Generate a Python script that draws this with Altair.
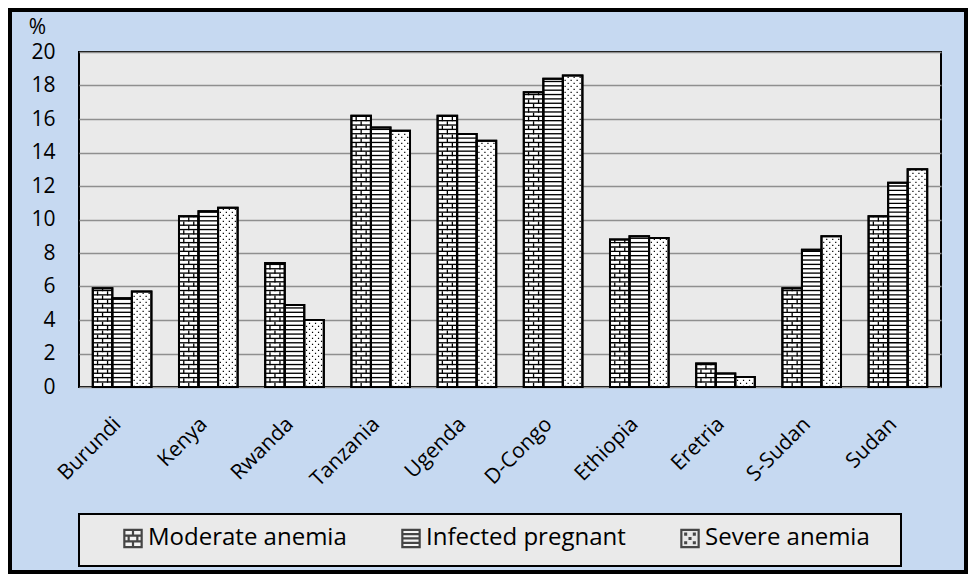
import altair as alt
import pandas as pd

COUNTRIES = ["Burundi", "Kenya", "Rwanda", "Tanzania", "Ugenda",
             "D-Congo", "Ethiopia", "Eretria", "S-Sudan", "Sudan"]
MODERATE = [5.9, 10.2, 7.4, 16.2, 16.2, 17.6, 8.8, 1.4, 5.9, 10.2]
INFECTED = [5.3, 10.5, 4.9, 15.5, 15.1, 18.4, 9.0, 0.8, 8.2, 12.2]
SEVERE = [5.7, 10.7, 4.0, 15.3, 14.7, 18.6, 8.9, 0.6, 9.0, 13.0]
SERIES = ["Moderate anemia", "Infected pregnant", "Severe anemia"]
Y_TICKS = [0, 2, 4, 6, 8, 10, 12, 14, 16, 18, 20]

rows = []
for i, c in enumerate(COUNTRIES):
    for s, vals in zip(SERIES, [MODERATE, INFECTED, SEVERE]):
        rows.append({"country": c, "series": s, "value": vals[i]})
df = pd.DataFrame(rows)

# layout / style constants
W, H = 862, 335
PX = H / 20.0
ROW = 0.26            # texture row height in data units
ROW_PX = ROW * PX
THICK = 0.08
P_IN = 0.32
STEP = W / len(COUNTRIES)
SUB = STEP * (1 - P_IN) / 3
FONT = "Open Sans"
BG = "#C6D9F1"
PLOT_BG = "#EAEAEA"

x_scale = alt.Scale(paddingInner=P_IN, paddingOuter=P_IN / 2)
x_axis = alt.Axis(title=None, labelAngle=315, labelAlign="right", labelBaseline="top",
                  labelPadding=26, labelOffset=-12, ticks=False, domain=False, labelFontSize=21,
                  labelFont=FONT, labelColor="black", labelLimit=300)
y_scale = alt.Scale(domain=[0, 20], nice=False, zero=True)
y_axis = alt.Axis(values=Y_TICKS, title="%", titleAngle=0, titleX=-42, titleY=-25,
                  titleAlign="center", titleBaseline="middle", titleFontSize=21,
                  titleFont=FONT, titleFontWeight="normal", titleColor="black",
                  labelFontSize=21, labelFont=FONT, labelColor="black", labelPadding=24,
                  ticks=False, domain=False, grid=True, gridColor="#8f8f8f", gridWidth=1.5)


def X():
    return alt.X("country:N", sort=COUNTRIES, scale=x_scale, axis=x_axis)


def XO():
    return alt.XOffset("series:N", sort=SERIES,
                       scale=alt.Scale(domain=SERIES, paddingInner=0, paddingOuter=0))


def Y(field):
    return alt.Y(field, scale=y_scale, axis=y_axis)


base = alt.Chart(df)

bars = base.mark_bar(fill="white", stroke="black", strokeWidth=2).encode(
    x=X(), xOffset=XO(), y=Y("value:Q"))

# horizontal lines (brick rows and stripes)
hlines = (base.transform_filter(alt.datum.series != "Severe anemia")
          .transform_calculate(lv=f"sequence({ROW}, datum.value - 0.05, {ROW})")
          .transform_flatten(["lv"])
          .transform_calculate(lv2=f"datum.lv + {THICK}")
          .mark_bar(fill="black")
          .encode(x=X(), xOffset=XO(), y=Y("lv:Q"), y2=alt.Y2("lv2:Q")))

layers = [bars, hlines]

# brick joints
for shift, doff in [(0, 0), (-5, ROW_PX), (5, ROW_PX)]:
    layers.append(
        base.transform_filter(alt.datum.series == "Moderate anemia")
        .transform_calculate(base0="0")
        .mark_rule(color="black", strokeWidth=1.3, strokeDash=[ROW_PX, ROW_PX],
                   strokeDashOffset=doff, xOffset=-SUB + shift)
        .encode(x=X(), y=Y("base0:Q"), y2=alt.Y2("value:Q")))

# dots
for j, cx in enumerate([-7.5, -4.5, -1.5, 1.5, 4.5, 7.5]):
    layers.append(
        base.transform_filter(alt.datum.series == "Severe anemia")
        .transform_calculate(base0="0")
        .mark_rule(color="black", strokeWidth=1.2, strokeDash=[1.2, 4.8],
                   strokeDashOffset=(3 if j % 2 else 0), xOffset=SUB + cx)
        .encode(x=X(), y=Y("base0:Q"), y2=alt.Y2("value:Q")))

outline = base.mark_bar(fillOpacity=0, stroke="black", strokeWidth=2).encode(
    x=X(), xOffset=XO(), y=Y("value:Q"))
layers.append(outline)

# decorative legend box and outer frame
deco = pd.DataFrame({"k": [0]})
legend_box = alt.Chart(deco).mark_rect(fill=PLOT_BG, stroke="black", strokeWidth=2).encode(
    x=alt.value(0), x2=alt.value(822), y=alt.value(462), y2=alt.value(514))
frame = alt.Chart(deco).mark_rect(fillOpacity=0, stroke="black", strokeWidth=4).encode(
    x=alt.value(-69), x2=alt.value(887), y=alt.value(-42), y2=alt.value(520))
layers = [legend_box] + layers

PATHS = [
    "M-1,-1H1V1H-1Z M-1,-0.33H1 M-1,0.33H1 M0,-1V-0.33 M-0.5,-0.33V0.33 M0.5,-0.33V0.33 M0,0.33V1",
    "M-1,-1H1V1H-1Z M-1,-0.5H1 M-1,0H1 M-1,0.5H1",
    "M-1,-1H1V1H-1Z M-0.55,-0.55h0.1v0.1h-0.1Z M0.45,-0.55h0.1v0.1h-0.1Z M-0.05,-0.05h0.1v0.1h-0.1Z M-0.55,0.45h0.1v0.1h-0.1Z M0.45,0.45h0.1v0.1h-0.1Z",
]
ICON_FILL = ["#ffffff", "#ffffff", "#e4e4e4"]


def make_legend():
    return alt.Legend(title=None, orient="none", legendX=42, legendY=474,
                      direction="horizontal", columns=3, columnPadding=50,
                      labelFont=FONT, labelFontSize=24, labelColor="black",
                      symbolSize=300, symbolStrokeWidth=2.2,
                      labelOffset=3, labelLimit=300)


legend_layer = (base.transform_filter("datum.value < 0")
                .mark_point(filled=False, strokeWidth=2.2)
                .encode(x=X(), y=Y("value:Q"),
                        shape=alt.Shape("series:N", sort=SERIES,
                                        scale=alt.Scale(domain=SERIES, range=PATHS),
                                        legend=make_legend()),
                        stroke=alt.Stroke("series:N", sort=SERIES,
                                          scale=alt.Scale(domain=SERIES,
                                                          range=["black", "black", "black"]),
                                          legend=make_legend()),
                        fill=alt.Fill("series:N", sort=SERIES,
                                      scale=alt.Scale(domain=SERIES, range=ICON_FILL),
                                      legend=make_legend())))
layers.append(legend_layer)
layers.append(frame)

chart = (alt.layer(*layers)
         .properties(width=W, height=H, background=BG,
                     padding={"left": 71, "top": 44, "right": 27, "bottom": 187},
                     autosize=alt.AutoSizeParams(type="none"))
         .configure_view(fill=PLOT_BG, stroke="black", strokeWidth=2))

chart.save("out.html", embed_options={"renderer": "svg", "actions": False})
